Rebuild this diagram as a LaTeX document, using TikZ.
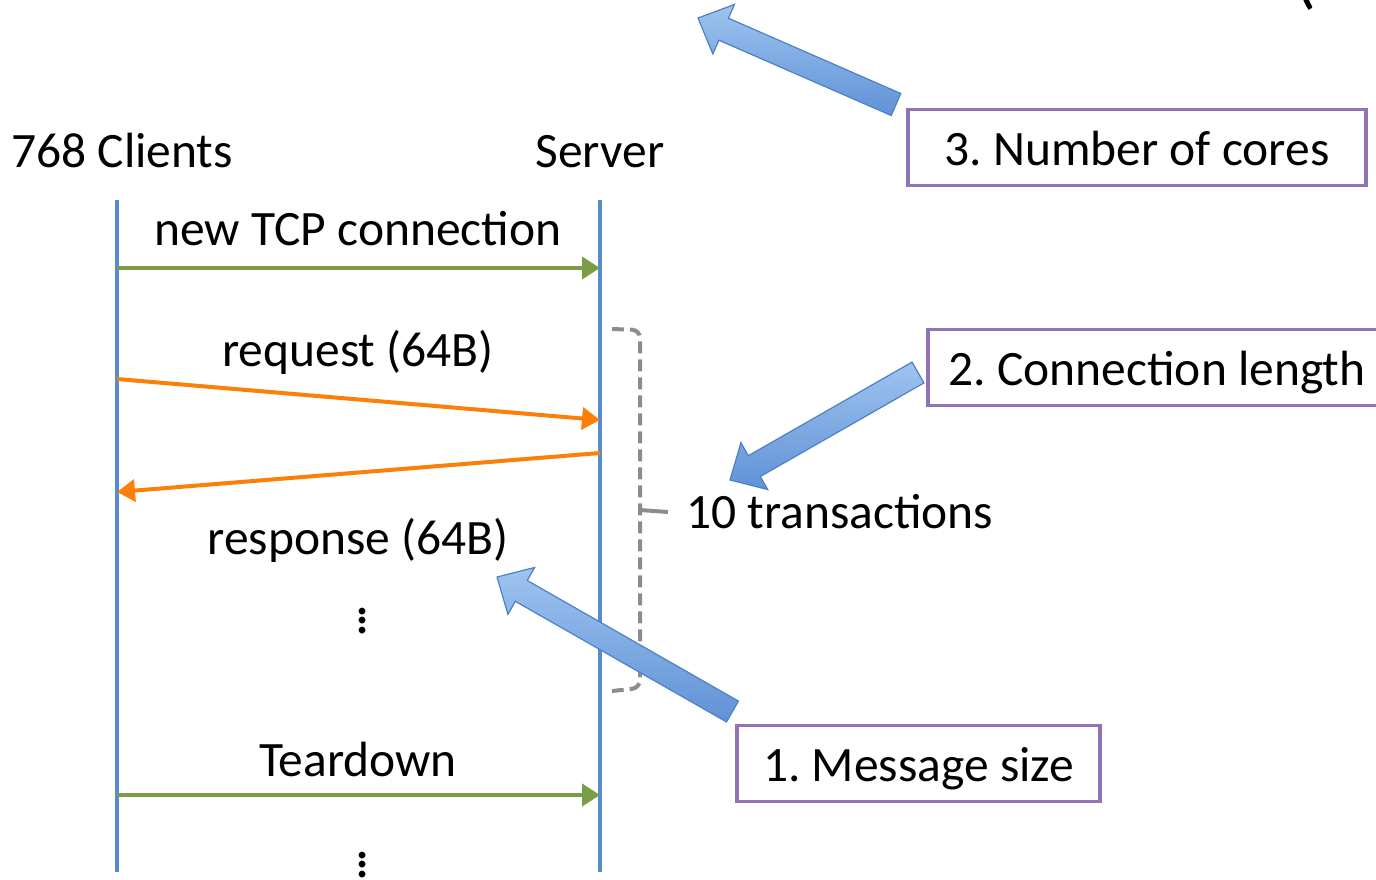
\documentclass[tikz,border=0pt]{standalone}
\usepackage{fontspec}
\setmainfont{Carlito}
\usetikzlibrary{arrows.meta,calc}

\definecolor{lifeblue}{RGB}{88,138,204}
\definecolor{msggreen}{RGB}{122,158,70}
\definecolor{msgorange}{RGB}{252,128,8}
\definecolor{boxpurple}{RGB}{146,116,182}
\definecolor{bracegray}{RGB}{140,140,140}
\definecolor{calloutlight}{RGB}{158,196,240}
\definecolor{calloutdark}{RGB}{96,146,214}
\definecolor{calloutedge}{RGB}{78,128,196}

\tikzset{
  lifeline/.style={draw=lifeblue, line width=4pt},
  greenmsg/.style={draw=msggreen, line width=4pt, -{Triangle[length=18pt,width=22pt]}},
  orangemsg/.style={draw=msgorange, line width=4pt, -{Triangle[length=18pt,width=22pt]}},
  label/.style={anchor=base},
  topicbox/.style={draw=boxpurple, line width=3.2pt, minimum width=458pt, minimum height=76pt,
    text height=35pt, text depth=0pt},
  bracket/.style={draw=bracegray, line width=4pt, dash pattern=on 12pt off 6pt, rounded corners=8pt},
  callout/.style={top color=calloutlight, bottom color=calloutdark, draw=calloutedge, line width=1.2pt, line join=miter},
  ellipsis/.style={font=\fontsize{56}{9.5}\selectfont},
}

% three periods stacked closely
\newcommand{\stackdots}{\vbox{\baselineskip=9.5pt\lineskiplimit=-30pt\hbox{.}\hbox{.}\hbox{.}}}

% wide block arrow from #2 (tail) to #3 (tip), helper points prefixed by #1
\newcommand{\calloutarrow}[3]{%
  \coordinate (#1-b) at ($(#3)!28pt!(#2)$);
  \path[callout]
    ($(#2)!12pt!90:(#3)$) -- ($(#1-b)!12pt!90:(#3)$) -- ($(#1-b)!27pt!90:(#3)$) --
    (#3) --
    ($(#1-b)!27pt!-90:(#3)$) -- ($(#1-b)!12pt!-90:(#3)$) -- ($(#2)!12pt!-90:(#3)$) -- cycle;
}

\begin{document}
\frenchspacing
\begin{tikzpicture}[x=1pt,y=-1pt, every node/.style={font=\fontsize{49.5}{58}\selectfont, inner sep=0pt}]
\useasboundingbox (0,0) rectangle (1376,879);

% title fragment running off the top edge
\node[anchor=base west, font=\fontsize{72}{80}\selectfont] (paren) at (1294,0) {(};

% participants
\node[label] (clients) at (122,167) {768 Clients};
\node[label] (server) at (600,167) {Server};

% lifelines
\coordinate (ctop) at (117,200);
\coordinate (cbot) at (117,872);
\coordinate (stop) at (600,200);
\coordinate (sbot) at (600,872);
\draw[lifeline] (ctop) -- (cbot);
\draw[lifeline] (stop) -- (sbot);

% connection setup
\coordinate (m1a) at (117,268);
\coordinate (m1b) at (600,268);
\draw[greenmsg] (m1a) -- (m1b);
\node[label] (m1) at (358,245) {new TCP connection};

% request / response
\coordinate (m2a) at (117,379);
\coordinate (m2b) at (600,420);
\draw[orangemsg] (m2a) -- (m2b);
\node[label] (m2) at (358,366) {request (64B)};

\coordinate (m3a) at (600,453);
\coordinate (m3b) at (117,492);
\draw[orangemsg] (m3a) -- (m3b);
\node[label] (m3) at (358,554) {response (64B)};

\node[ellipsis] (dots1) at (363,621) {\stackdots};

% teardown
\coordinate (m4a) at (117,795);
\coordinate (m4b) at (600,795);
\draw[greenmsg] (m4a) -- (m4b);
\node[label] (m4) at (358,776) {Teardown};

\node[ellipsis] (dots2) at (363,865) {\stackdots};

% bracket over the transactions
\coordinate (brtop) at (612,329);
\coordinate (brbot) at (612,691);
\coordinate (brmid) at (640,510);
\coordinate (brtip) at (668,512);
\draw[bracket] (brtop) -- (640,330) -- (640,688) -- (brbot);
\draw[bracket, dash pattern=] (brmid) -- (brtip);
\node[anchor=base west] (trans) at (686,528) {10 transactions};

% parameter boxes
\node[topicbox] (b3) at (1137,147.5) {3. Number of cores};
\node[topicbox] (b2) at (1157,367.5) {2. Connection length};
\node[topicbox, minimum width=363pt] (b1) at (918.5,763.5) {1. Message size};

% callout arrows
\coordinate (a3tail) at (896,104.5);
\coordinate (a3tip) at (698,18);
\calloutarrow{a3}{a3tail}{a3tip}
\coordinate (a2tail) at (918,372.5);
\coordinate (a2tip) at (730,480);
\calloutarrow{a2}{a2tail}{a2tip}
\coordinate (a1tail) at (732.5,711.5);
\coordinate (a1tip) at (497,577);
\calloutarrow{a1}{a1tail}{a1tip}
\end{tikzpicture}
\end{document}
